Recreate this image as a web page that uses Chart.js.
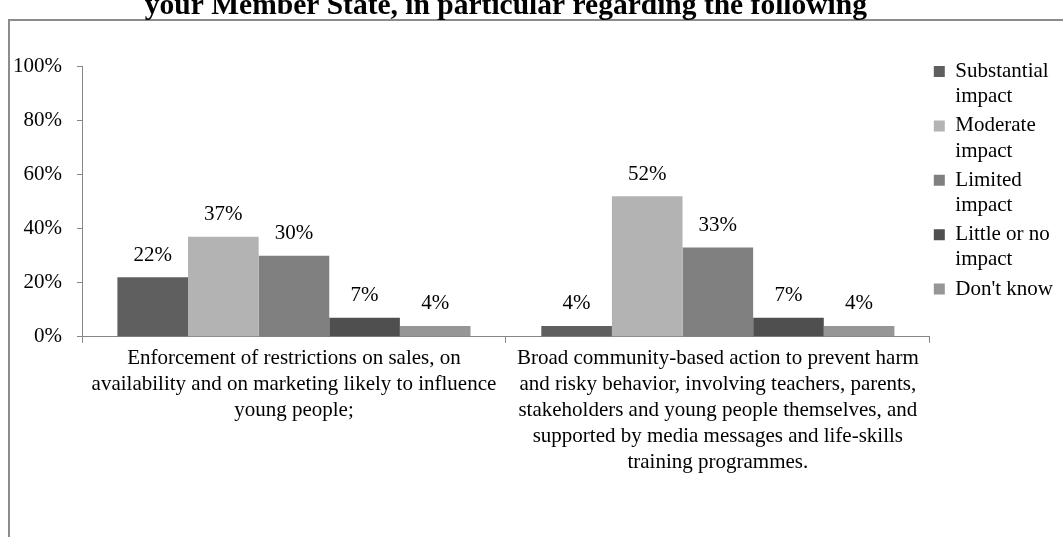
<!DOCTYPE html>
<html><head><meta charset="utf-8">
<script src="https://cdn.jsdelivr.net/npm/chart.js@4"></script>
<style>
html,body{margin:0;padding:0;background:#fff;overflow:hidden;width:1063px;height:537px;}
#wrap{position:absolute;left:0;top:-14px;width:1063px;height:551px;}
</style></head><body>
<div id="wrap"><canvas id="c"></canvas></div>
<script>
const titleText = 'your Member State, in particular regarding the following';
const categories = [
  ['Enforcement of restrictions on sales, on', 'availability and on marketing likely to influence', 'young people;'],
  ['Broad community-based action to prevent harm', 'and risky behavior, involving teachers, parents,', 'stakeholders and young people themselves, and', 'supported by media messages and life-skills', 'training programmes.']
];
const seriesLegend = [['Substantial', 'impact'], ['Moderate', 'impact'], ['Limited', 'impact'], ['Little or no', 'impact'], ["Don't know"]];
const substantial = [22, 4];
const moderate = [37, 52];
const limited = [30, 33];
const littleOrNo = [7, 7];
const dontKnow = [4, 4];
const yTicks = [0, 20, 40, 60, 80, 100];

const seriesValues = [substantial, moderate, limited, littleOrNo, dontKnow];
const seriesColors = ['#5f5f5f', '#b3b3b3', '#808080', '#4f4f4f', '#969696'];
const FONT = 'Liberation Serif';

const valueLabels = {
  id: 'valueLabels',
  afterDatasetsDraw(chart) {
    const ctx = chart.ctx;
    ctx.save();
    ctx.font = '21px "' + FONT + '"';
    ctx.fillStyle = '#000';
    ctx.textAlign = 'center';
    ctx.textBaseline = 'middle';
    chart.data.datasets.forEach((ds, i) => {
      chart.getDatasetMeta(i).data.forEach((bar, j) => {
        ctx.fillText(ds.data[j] + '%', bar.x, bar.y - 22);
      });
    });
    ctx.restore();
  }
};
const frame = {
  id: 'frame',
  beforeDraw(chart) {
    const ctx = chart.ctx;
    ctx.save();
    ctx.strokeStyle = '#8c8c8c';
    ctx.lineWidth = 2;
    ctx.strokeRect(9, 34, 3000, 3000);
    ctx.restore();
  }
};

new Chart(document.getElementById('c'), {
  type: 'bar',
  data: {
    labels: categories,
    datasets: seriesValues.map((vals, i) => ({
      label: seriesLegend[i].join(' '),
      data: vals,
      backgroundColor: seriesColors[i],
      borderWidth: 0,
      categoryPercentage: 0.833,
      barPercentage: 1.0
    }))
  },
  options: {
    responsive: true,
    maintainAspectRatio: false,
    animation: false,
    devicePixelRatio: 1,
    layout: { padding: { left: 12, right: 0, top: 0, bottom: 58 } },
    plugins: {
      tooltip: { enabled: false },
      title: {
        display: true,
        text: titleText,
        fullSize: false,
        color: '#000',
        font: { family: FONT, size: 29.5, weight: 'bold' },
        padding: { top: 3, bottom: 42 }
      },
      legend: {
        position: 'right',
        align: 'start',
        title: { display: true, text: '', font: { size: 10 }, padding: { top: 59, bottom: 0 } },
        labels: {
          boxWidth: 11,
          boxHeight: 11,
          padding: 4,
          color: '#000',
          font: { family: FONT, size: 21 },
          generateLabels(chart) {
            return Chart.defaults.plugins.legend.labels.generateLabels(chart).map((l, i) => Object.assign(l, { text: seriesLegend[i], lineWidth: 0 }));
          }
        }
      }
    },
    scales: {
      x: {
        afterFit(scale) { scale.paddingLeft = 0; scale.paddingRight = 0; },
        grid: { display: true, drawOnChartArea: false, tickLength: 6, color: '#868686', offset: true },
        border: { color: '#868686' },
        ticks: { color: '#000', padding: 3, maxRotation: 0, minRotation: 0, autoSkip: false, font: { family: FONT, size: 21, lineHeight: 1.24 } }
      },
      y: {
        min: 0, max: 100,
        afterBuildTicks(scale) { scale.ticks = yTicks.map(v => ({ value: v })); },
        afterFit(scale) { scale.width = 70; },
        grid: { drawOnChartArea: false, tickLength: 5, color: '#868686' },
        border: { color: '#868686' },
        ticks: { color: '#000', padding: 15, callback: v => v + '%', font: { family: FONT, size: 21 } }
      }
    }
  },
  plugins: [frame, valueLabels]
});
</script>
</body></html>
